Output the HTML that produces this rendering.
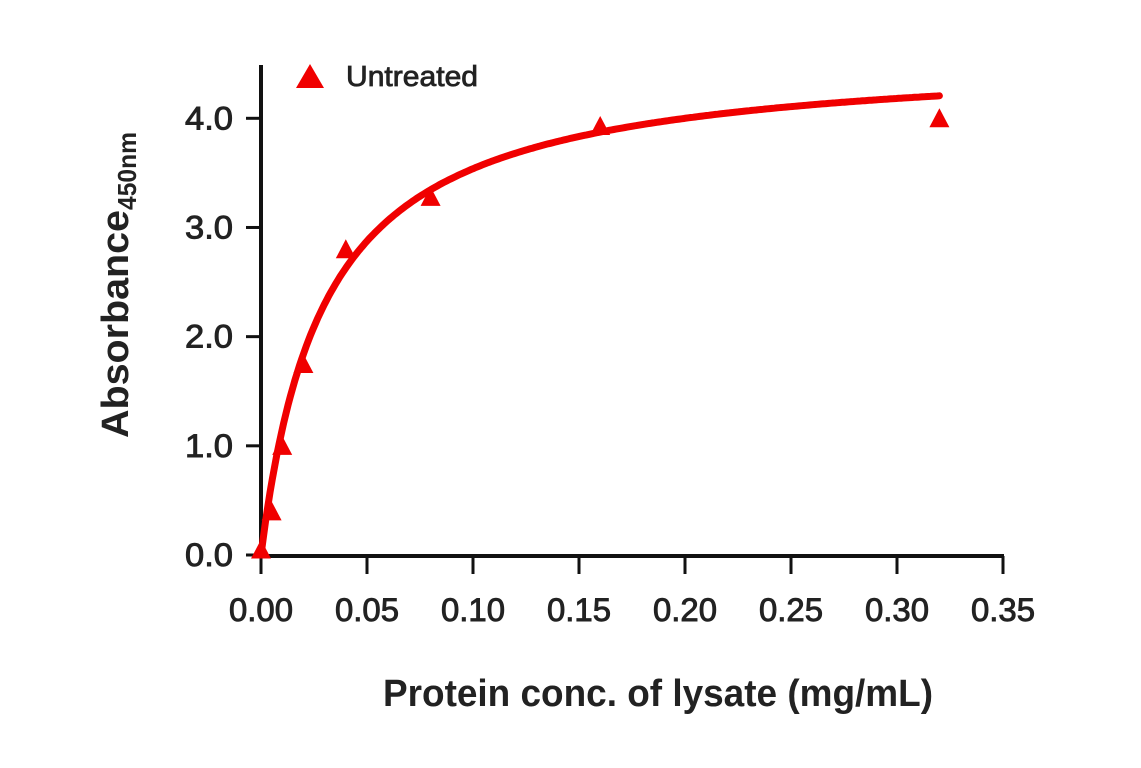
<!DOCTYPE html>
<html><head><meta charset="utf-8"><style>
body{margin:0;background:#fff;}
svg{display:block;font-family:"Liberation Sans Narrow","Liberation Sans",sans-serif;}
</style></head><body>
<svg id="chart" width="1141" height="768" viewBox="0 0 1141 768" xmlns="http://www.w3.org/2000/svg">
<g id="axes"></g>
<g id="curve"></g>
<g id="points"></g>
<g>
<polygon points="296,88 324,88 310,64" fill="#f00000"/>
<text x="346" y="86" font-size="29" fill="#222" stroke="#222" stroke-width="0.8" textLength="132" lengthAdjust="spacingAndGlyphs">Untreated</text>
</g>
<text x="383" y="706" font-size="38" font-weight="bold" fill="#222" textLength="550" lengthAdjust="spacingAndGlyphs">Protein conc. of lysate (mg/mL)</text>
<text transform="translate(128,438) rotate(-90)" font-size="38" font-weight="bold" fill="#222"><tspan textLength="228" lengthAdjust="spacingAndGlyphs">Absorbance</tspan><tspan dy="8" font-size="26" textLength="78" lengthAdjust="spacingAndGlyphs">450nm</tspan></text>
</svg>
<script>
const xVals=[0,0.005,0.01,0.02,0.04,0.08,0.16,0.32];
const yVals=[0.05,0.4,1.0,1.75,2.8,3.28,3.93,4.0];
const xTicks=[0,0.05,0.10,0.15,0.20,0.25,0.30,0.35];
const xTickLabels=["0.00","0.05","0.10","0.15","0.20","0.25","0.30","0.35"];
const yTicks=[0,1,2,3,4];
const yTickLabels=["0.0","1.0","2.0","3.0","4.0"];
const fitA=4.6, fitK=0.03;
const NS="http://www.w3.org/2000/svg";
const X=v=>261+v*(1003-261)/0.35;
const Y=v=>555-v*(555-118.3)/4;
function mk(tag,attrs,parent){const e=document.createElementNS(NS,tag);for(const k in attrs)e.setAttribute(k,attrs[k]);parent.appendChild(e);return e;}
const axes=document.getElementById('axes');
let l=mk('line',{x1:261,y1:65,x2:261,y2:557,stroke:'#111','stroke-width':4},axes);


l=mk('line',{x1:259,y1:556,x2:1004,y2:556,stroke:'#111','stroke-width':4},axes);


xTicks.forEach((t,i)=>{
 const tk=mk('line',{x1:X(t),y1:556,x2:X(t),y2:574,stroke:'#111','stroke-width':3},axes);
 
 
 const tx=mk('text',{x:X(t),y:621,'font-size':32,'text-anchor':'middle',fill:'#222',stroke:'#222','stroke-width':0.9,textLength:64,lengthAdjust:'spacingAndGlyphs'},axes);
 tx.textContent=xTickLabels[i];
 
 
});
yTicks.forEach((t,i)=>{
 const tk=mk('line',{x1:246,y1:Y(t),x2:261,y2:Y(t),stroke:'#111','stroke-width':3},axes);
 
 
 const tx=mk('text',{x:233,y:Y(t)+11,'font-size':32,'text-anchor':'end',fill:'#222',stroke:'#222','stroke-width':0.9,textLength:48,lengthAdjust:'spacingAndGlyphs'},axes);
 tx.textContent=yTickLabels[i];
 
 
});
let d='';
for(let i=0;i<=300;i++){const x=0.32*i/300;const y=fitA*x/(fitK+x);d+=(i?'L':'M')+X(x).toFixed(1)+','+Y(y).toFixed(1);}
const p=mk('path',{d:d,fill:'none',stroke:'#f00000','stroke-width':7,'stroke-linecap':'round'},document.getElementById('curve'));


const pts=document.getElementById('points');
xVals.forEach((xv,i)=>{
 const cx=X(xv),cy=Y(yVals[i]);
 const t=mk('polygon',{points:`${cx-10},${cy+9} ${cx+10},${cy+9} ${cx},${cy-10}`,fill:'#f00000'},pts);
 
 
});
</script>
</body></html>
